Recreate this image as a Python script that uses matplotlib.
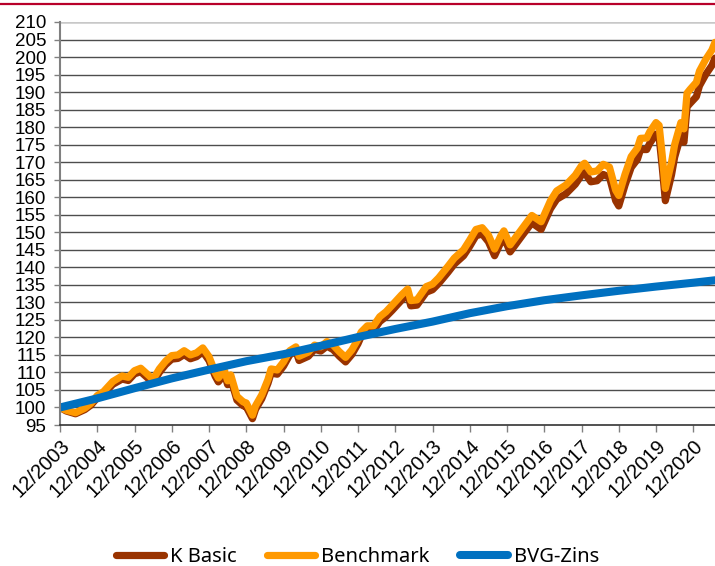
import matplotlib.pyplot as plt
from matplotlib.lines import Line2D

# months since 12/2003
months = [0, 2, 5, 8, 10, 12, 14, 17, 20, 22, 24, 26, 28, 30, 32, 34, 36, 38, 40, 42,
          44, 46, 48, 50, 51, 53, 54, 55, 57, 59, 60, 62, 63, 65, 67, 68, 70, 72, 74, 76,
          77, 80, 82, 84, 86, 88, 90, 92, 94, 96, 97, 99, 101, 103, 105, 107, 110, 112, 113, 115,
          118, 120, 122, 125, 127, 130, 132, 134, 136, 138, 140, 142, 143, 145, 147, 149, 152, 155, 158, 160,
          163, 166, 168, 169, 171, 173, 175, 177, 179, 180, 182, 184, 186, 187, 189, 190, 192, 193, 194, 195,
          197, 198, 200, 201, 202, 203, 205, 206, 208, 210, 211]

benchmark = [100.0, 99.2, 98.5, 99.8, 101.2, 103.4, 104.5, 107.4, 109.0, 108.6, 110.5, 111.2, 109.6, 108.0, 111.0, 113.2, 114.8, 115.0, 116.2, 115.0,
             115.6, 117.0, 114.5, 110.0, 108.4, 110.5, 107.6, 109.3, 103.2, 101.6, 101.3, 97.8, 100.5, 103.6, 108.0, 111.0, 110.7, 113.0, 116.2, 117.3,
             114.6, 115.8, 117.8, 117.3, 118.8, 117.8, 115.9, 114.3, 116.4, 119.5, 121.5, 123.3, 123.3, 125.9, 127.3, 129.2, 132.1, 133.8, 130.5, 130.7,
             134.5, 135.2, 137.0, 140.3, 142.6, 145.0, 147.8, 150.8, 151.3, 149.2, 145.2, 149.0, 150.4, 146.4, 148.8, 151.2, 154.8, 153.0, 159.0, 161.8,
             163.5, 166.3, 169.0, 169.7, 167.2, 167.5, 169.4, 168.6, 162.0, 160.5, 166.5, 171.6, 174.0, 176.8, 176.9, 178.7, 181.3, 180.5, 172.0, 162.5,
             170.0, 175.0, 181.3, 179.5, 189.7, 190.8, 192.8, 196.0, 199.3, 202.0, 204.2]

k_basic = [100.0, 99.0, 98.2, 99.4, 100.7, 102.8, 103.8, 106.6, 108.1, 107.7, 109.6, 110.2, 108.6, 107.0, 110.0, 112.2, 113.8, 114.0, 115.1, 113.9,
           114.5, 115.9, 113.4, 108.9, 107.3, 109.4, 106.5, 108.2, 102.1, 100.5, 100.2, 96.8, 99.5, 102.5, 106.9, 109.8, 109.5, 111.8, 115.0, 116.1,
           113.4, 114.6, 116.6, 116.1, 117.5, 116.5, 114.6, 113.0, 115.1, 118.2, 120.2, 121.9, 121.9, 124.5, 125.9, 127.7, 130.6, 132.3, 129.0, 129.2,
           132.9, 133.6, 135.4, 138.6, 140.9, 143.3, 146.0, 149.0, 149.5, 147.3, 143.3, 147.1, 148.5, 144.4, 146.8, 149.2, 152.7, 150.8, 156.7, 159.4,
           161.0, 163.7, 166.3, 167.0, 164.4, 164.7, 166.5, 165.7, 159.0, 157.5, 163.4, 168.5, 170.8, 173.6, 173.6, 175.4, 178.0, 177.1, 168.6, 159.0,
           166.4, 171.4, 177.6, 175.7, 185.8, 186.8, 188.7, 191.8, 195.0, 197.6, 199.7]

bvg_months = [0, 12, 24, 36, 48, 60, 72, 84, 96, 108, 120, 132, 144, 156, 168, 180, 192, 204, 211]
bvg_zins = [100.0, 102.6, 105.5, 108.3, 110.8, 113.2, 115.2, 117.6, 120.1, 122.4,
            124.5, 126.9, 128.9, 130.6, 132.0, 133.3, 134.5, 135.6, 136.3]

tick_labels = ['12/%d' % y for y in range(2003, 2021)]

plt.rcParams['font.family'] = ['Liberation Sans', 'DejaVu Sans']

fig = plt.figure(figsize=(7.15, 5.66), dpi=100)
ax = fig.add_axes([60 / 715, 1 - 425 / 566, 655 / 715, 403 / 566])

style = dict(solid_capstyle='round', solid_joinstyle='round')
ax.plot(months, k_basic, color='#993300', lw=5.2, label='K Basic', **style)
ax.plot(months, benchmark, color='#FF9900', lw=5.2, label='Benchmark', **style)
ax.plot(bvg_months, bvg_zins, color='#0070C0', lw=5.8, label='BVG-Zins', **style)

ax.set_xlim(0, 211)
ax.set_ylim(95, 210)
ax.set_yticks(range(95, 211, 5))
ax.set_xticks(range(0, 205, 12))
ax.set_xticklabels(tick_labels, rotation=45, ha='right', va='top', rotation_mode='anchor')

for v in range(100, 210, 5):
    ax.axhline(v, color='#4d4d4d', lw=1.0, zorder=0)
ax.axhline(210, color='#c8c8c8', lw=1.8, zorder=0)

for s in ['top', 'right']:
    ax.spines[s].set_visible(False)
ax.spines['left'].set_color('#808080')
ax.spines['left'].set_linewidth(1.5)
ax.spines['bottom'].set_color('#333333')
ax.spines['bottom'].set_linewidth(1.2)
ax.tick_params(axis='y', length=4, width=1, color='#808080', labelsize=13.5, pad=6)
ax.tick_params(axis='x', length=5, width=1, color='#808080', labelsize=14.5, pad=3)

# red rule along the top
fig.add_artist(Line2D([0, 1], [1 - 4 / 566, 1 - 4 / 566], color='#B8002A', lw=1.6))

fig.legend(loc='center', bbox_to_anchor=(0.5, 1 - 557 / 566), ncol=3, frameon=False,
           prop={'family': 'Noto Sans', 'size': 14.5}, handlelength=2.4,
           handletextpad=0.3, columnspacing=1.5)

fig.savefig('out.png', dpi=100)
